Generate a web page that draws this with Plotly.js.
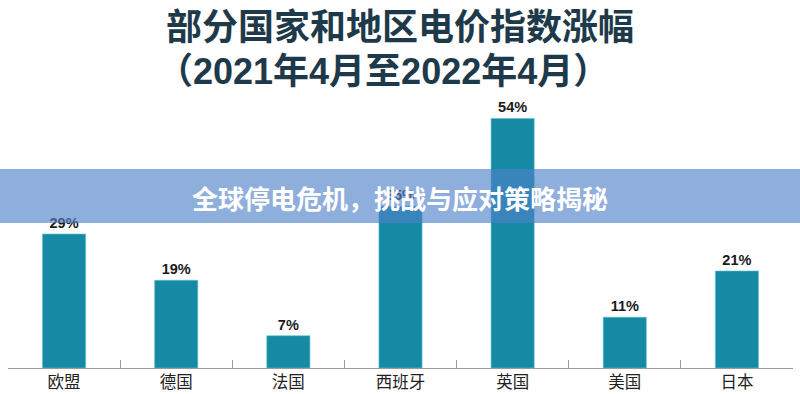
<!DOCTYPE html>
<html>
<head>
<meta charset="utf-8">
<script src="https://cdn.plot.ly/plotly-3.0.1.min.js"></script>
<style>html,body{margin:0;padding:0;background:#fff;}#chart{width:800px;height:394px;}</style>
</head>
<body>
<div id="chart"></div>
<script>
const categories = ['欧盟','德国','法国','西班牙','英国','美国','日本'];
const values = [29, 19, 7, 35, 54, 11, 21];
const valueLabels = ['29%','19%','7%','35%','54%','11%','21%'];
const titleLine1 = '部分国家和地区电价指数涨幅';
const titleLine2 = '（2021年4月至2022年4月）';
const bannerText = '全球停电危机，挑战与应对策略揭秘';

const trace = {
  type: 'bar',
  x: categories,
  y: values,
  text: valueLabels,
  textposition: 'outside',
  cliponaxis: false,
  textfont: {family: 'Liberation Sans, Arial, sans-serif', size: 14.5, color: '#1a1a1a', weight: 'bold'},
  marker: {color: '#168aa4', line: {color: '#5fc6d8', width: 0.6}},
  hoverinfo: 'none'
};

const layout = {
  width: 800, height: 394,
  margin: {l: 8, r: 7, t: 100, b: 26},
  paper_bgcolor: '#ffffff',
  plot_bgcolor: '#ffffff',
  showlegend: false,
  bargap: 0.615,
  xaxis: {
    type: 'category',
    showline: true, linecolor: '#9a9a9a', linewidth: 1.2,
    ticks: 'inside', tickson: 'boundaries', ticklen: 8, tickcolor: '#9a9a9a', tickwidth: 1,
    tickfont: {family: 'Noto Sans CJK SC, sans-serif', size: 16.5, color: '#222222'},
    ticklabelstandoff: -1,
    showgrid: false, zeroline: false, fixedrange: true
  },
  yaxis: {
    range: [0, 58], visible: false, showgrid: false, zeroline: false, fixedrange: true
  },
  shapes: [{
    type: 'rect', xref: 'paper', yref: 'paper', layer: 'above',
    x0: -0.02, x1: 1.02, y0: 0.541, y1: 0.7425,
    fillcolor: 'rgba(78,128,200,0.64)', line: {width: 0}
  }],
  annotations: [
    {text: titleLine1, xref: 'paper', yref: 'paper', x: (400-8)/785, y: (368-28)/268,
     xanchor: 'center', yanchor: 'middle', showarrow: false,
     font: {family: 'Liberation Sans, Noto Sans CJK SC, sans-serif', size: 36, color: '#1e3a4a', weight: 'bold'}},
    {text: titleLine2, xref: 'paper', yref: 'paper', x: (383-8)/785, y: (368-72)/268,
     xanchor: 'center', yanchor: 'middle', showarrow: false,
     font: {family: 'Liberation Sans, Noto Sans CJK SC, sans-serif', size: 36, color: '#1e3a4a', weight: 'bold'}},
    {text: bannerText, xref: 'paper', yref: 'paper', x: (400-8)/785, y: (368-197)/268,
     xanchor: 'center', yanchor: 'middle', showarrow: false,
     font: {family: 'Noto Sans CJK SC, sans-serif', size: 26, color: '#ffffff', weight: 'bold'}}
  ]
};

Plotly.newPlot('chart', [trace], layout, {displayModeBar: false, staticPlot: true});
</script>
</body>
</html>
